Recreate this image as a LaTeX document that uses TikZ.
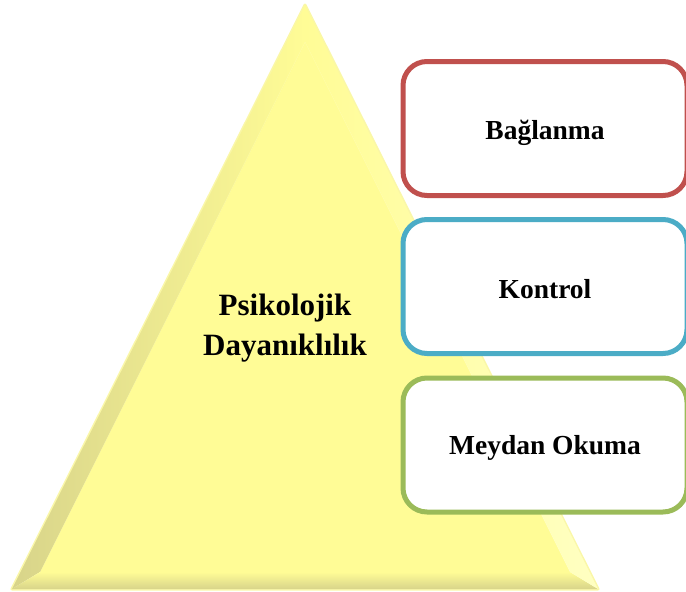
\documentclass[tikz,border=0pt]{standalone}
\usepackage{fontspec}
\setmainfont{Liberation Serif}
\definecolor{ybase}{HTML}{FFFC96}
\definecolor{ydark}{HTML}{D8D48A}
\definecolor{ylight}{HTML}{FFFFC2}
\definecolor{yglow}{HTML}{FAF7A8}
\definecolor{bred}{HTML}{C0504D}
\definecolor{bblue}{HTML}{4BACC6}
\definecolor{bgreen}{HTML}{9BBB59}
\newcommand{\lowertext}[2]{\raisebox{-#1}[\height][\depth]{#2}}
\tikzset{
  itembox/.style={draw=#1, line width=5pt, fill=white, rounded corners=24pt,
    minimum width=284pt, minimum height=134pt, inner sep=0pt,
    font=\fontsize{27.5}{33}\selectfont\bfseries},
  centertext/.style={align=center, inner sep=0pt,
    font=\fontsize{31}{40}\selectfont\bfseries}
}
\begin{document}
\begin{tikzpicture}[x=1pt,y=-1pt]
\useasboundingbox (0,0) rectangle (686,592);
% pyramid outer and inner corners
\coordinate (A) at (305,5);
\coordinate (B) at (12,589);
\coordinate (C) at (598,589);
\coordinate (Ai) at (305,42);
\coordinate (Bi) at (40,572);
\coordinate (Ci) at (570,572);
% glow
\draw[yglow, line width=3pt, line join=round] (A) -- (B) -- (C) -- cycle;
% centre face
\fill[ybase] (Ai) -- (Bi) -- (Ci) -- cycle;
% left bevel
\shade[left color=ydark, right color=ybase] (A) -- (B) -- (Bi) -- (Ai) -- cycle;
% bottom bevel
\shade[top color=ybase, bottom color=ydark] (B) -- (C) -- (Ci) -- (Bi) -- cycle;
% right bevel
\shade[left color=ybase, right color=ylight] (A) -- (Ai) -- (Ci) -- (C) -- cycle;
% label
\node[centertext] (pyr) at (285,328) {Psikolojik\\Dayanıklılık};
% boxes
\node[itembox=bred] (b1) at (545,128.5) {\lowertext{4pt}{Bağlanma}};
\node[itembox=bblue] (b2) at (545,286.5) {\lowertext{3pt}{Kontrol}};
\node[itembox=bgreen] (b3) at (545,445) {\lowertext{3pt}{Meydan Okuma}};
\end{tikzpicture}
\end{document}
